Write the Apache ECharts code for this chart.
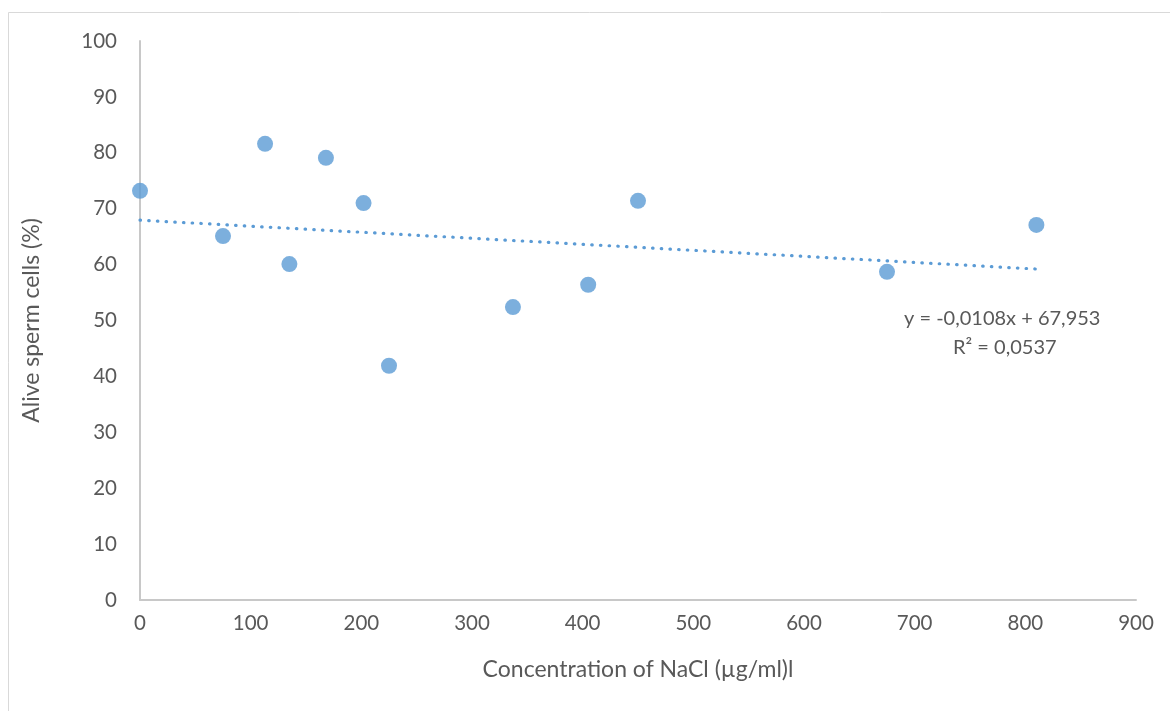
<!DOCTYPE html>
<html>
<head>
<meta charset="utf-8">
<script src="https://cdn.jsdelivr.net/npm/echarts@6/dist/echarts.min.js"></script>
<style>
html,body{margin:0;padding:0;background:#fff;}
#chart{width:1170px;height:711px;}
</style>
</head>
<body>
<div id="chart"></div>
<script>
// Data
const concentrations = [0, 75, 113, 135, 168, 202, 225, 337, 405, 450, 675, 810];
const aliveCells = [73.2, 65.1, 81.6, 60.1, 79.1, 71.0, 41.9, 52.4, 56.4, 71.4, 58.7, 67.1];
const trendSlope = -0.0108;
const trendIntercept = 67.953;
const trendRangeX = [0, 810];
const equationLines = ['y = -0,0108x + 67,953', 'R² = 0,0537'];
const xTicks = { min: 0, max: 900, interval: 100 };
const yTicks = { min: 0, max: 100, interval: 10 };

const scatterData = concentrations.map((x, i) => [x, aliveCells[i]]);
const trendData = trendRangeX.map(x => [x, trendSlope * x + trendIntercept]);

const FONT = 'Lato, "Open Sans", sans-serif';
const TEXT = '#595959';
const chart = echarts.init(document.getElementById('chart'), null, { renderer: 'canvas' });
chart.setOption({
  animation: false,
  backgroundColor: '#ffffff',
  grid: { left: 140, right: 34, top: 41, bottom: 111, containLabel: false },
  graphic: [
    { type: 'rect', shape: { x: 8.5, y: 12.5, width: 1300, height: 900 }, style: { fill: 'none', stroke: '#d9d9d9', lineWidth: 1 }, silent: true, z: -10 },
    { type: 'text', left: 904, top: 309, style: { text: equationLines[0], fill: TEXT, font: '20px ' + FONT, textAlign: 'left' } },
    { type: 'text', left: 953, top: 338, style: { text: equationLines[1], fill: TEXT, font: '20px ' + FONT, textAlign: 'left' } }
  ],
  xAxis: {
    type: 'value', min: xTicks.min, max: xTicks.max, interval: xTicks.interval,
    name: 'Concentration of NaCl (µg/ml)l', nameLocation: 'middle', nameGap: 58,
    nameTextStyle: { color: TEXT, fontSize: 23, fontFamily: FONT },
    axisLine: { show: true, lineStyle: { color: '#c8c8c8', width: 2 } },
    axisTick: { show: false },
    splitLine: { show: false },
    axisLabel: { color: TEXT, fontSize: 20.5, fontFamily: FONT, margin: 13 }
  },
  yAxis: {
    type: 'value', min: yTicks.min, max: yTicks.max, interval: yTicks.interval,
    name: 'Alive sperm cells (%)', nameLocation: 'middle', nameGap: 97, nameRotate: 90,
    nameTextStyle: { color: TEXT, fontSize: 23, fontFamily: FONT },
    axisLine: { show: true, lineStyle: { color: '#c8c8c8', width: 2 } },
    axisTick: { show: false },
    splitLine: { show: false },
    axisLabel: { color: TEXT, fontSize: 20.5, fontFamily: FONT, margin: 23 }
  },
  series: [
    {
      type: 'line', data: trendData, showSymbol: false, symbol: 'none',
      lineStyle: { color: '#5b9bd5', width: 3.2, type: [0.5, 8.2], cap: 'round' },
      z: 2
    },
    {
      type: 'scatter', data: scatterData, symbol: 'circle', symbolSize: 16,
      itemStyle: { color: '#5b9bd5' }, z: 3
    }
  ]
});
</script>
</body>
</html>
